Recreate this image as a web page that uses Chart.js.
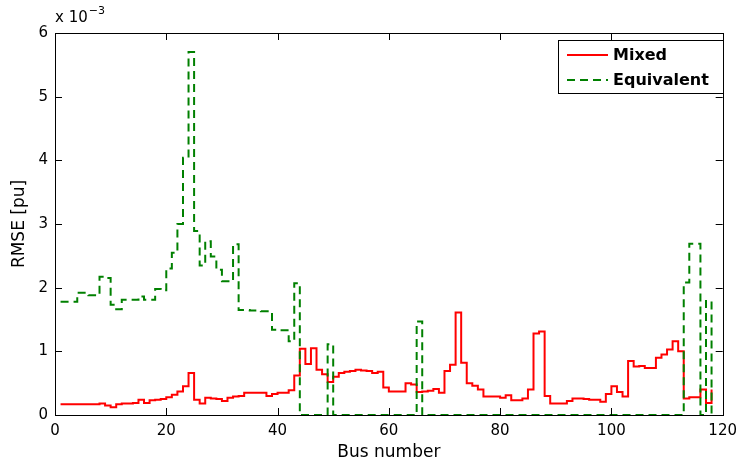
<!DOCTYPE html>
<html>
<head>
<meta charset="utf-8">
<script src="https://cdn.jsdelivr.net/npm/chart.js@4.4.1/dist/chart.umd.min.js"></script>
<style>
  html, body { margin: 0; padding: 0; background: #fff; }
  canvas { display: block; }
</style>
</head>
<body>
<canvas id="rmse-chart" width="744" height="468"></canvas>
<script>
// bus numbers 1..118
var buses = Array.from({ length: 118 }, function(_, i) { return i + 1; });

// RMSE values, in units of 1e-3 pu (one per bus)
var mixed = [
  0.17, 0.17, 0.17, 0.17, 0.17, 0.17, 0.17, 0.18, 0.15, 0.12,
  0.17, 0.18, 0.18, 0.19, 0.24, 0.19, 0.23, 0.24, 0.25, 0.28,
  0.32, 0.37, 0.45, 0.66, 0.24, 0.18, 0.27, 0.26, 0.25, 0.22,
  0.27, 0.29, 0.30, 0.35, 0.35, 0.35, 0.35, 0.30, 0.33, 0.35,
  0.35, 0.39, 0.62, 1.04, 0.80, 1.05, 0.71, 0.64, 0.52, 0.60,
  0.66, 0.68, 0.69, 0.71, 0.70, 0.69, 0.66, 0.68, 0.43, 0.37,
  0.37, 0.37, 0.50, 0.48, 0.36, 0.37, 0.38, 0.41, 0.35, 0.69,
  0.79, 1.61, 0.82, 0.50, 0.46, 0.40, 0.29, 0.29, 0.29, 0.27,
  0.31, 0.23, 0.23, 0.26, 0.40, 1.28, 1.31, 0.30, 0.18, 0.18,
  0.18, 0.22, 0.26, 0.26, 0.25, 0.24, 0.24, 0.21, 0.33, 0.45,
  0.36, 0.29, 0.85, 0.76, 0.77, 0.74, 0.74, 0.90, 0.95, 1.03,
  1.16, 1.00, 0.26, 0.28, 0.28, 0.40, 0.19, 0.40
];
var equivalent = [
  1.78, 1.78, 1.78, 1.92, 1.92, 1.88, 1.88, 2.17, 2.15, 1.73,
  1.66, 1.81, 1.81, 1.81, 1.86, 1.81, 1.81, 1.98, 1.96, 2.30,
  2.55, 3.00, 4.04, 5.70, 2.89, 2.35, 2.73, 2.49, 2.28, 2.10,
  2.10, 2.68, 1.65, 1.65, 1.64, 1.64, 1.63, 1.63, 1.34, 1.33,
  1.33, 1.16, 2.07, 0, 0, 0, 0, 0, 1.11, 0,
  0, 0, 0, 0, 0, 0, 0, 0, 0, 0,
  0, 0, 0, 0, 1.47, 0, 0, 0, 0, 0,
  0, 0, 0, 0, 0, 0, 0, 0, 0, 0,
  0, 0, 0, 0, 0, 0, 0, 0, 0, 0,
  0, 0, 0, 0, 0, 0, 0, 0, 0, 0,
  0, 0, 0, 0, 0, 0, 0, 0, 0, 0,
  0, 0, 2.08, 2.69, 2.69, 0, 1.79, 0
];

var xTicks = [0, 20, 40, 60, 80, 100, 120];
var yTicks = [0, 1, 2, 3, 4, 5, 6];

function points(vals) {
  return buses.map(function(b, i) { return { x: b, y: vals[i] }; });
}

var FONT = '"DejaVu Sans", Verdana, sans-serif';

// box round the axes with inward ticks, the exponent and the legend
var frameTicks = {
  id: 'frameTicks',
  afterDraw: function(chart) {
    var ctx = chart.ctx, a = chart.chartArea;
    var xs = chart.scales.x, ys = chart.scales.y;
    ctx.save();
    ctx.strokeStyle = '#000';
    ctx.lineWidth = 1;
    ctx.beginPath();
    xTicks.forEach(function(v) {
      var px = Math.round(xs.getPixelForValue(v)) + 0.5;
      ctx.moveTo(px, a.bottom); ctx.lineTo(px, a.bottom - 7);
      ctx.moveTo(px, a.top); ctx.lineTo(px, a.top + 7);
    });
    yTicks.forEach(function(v) {
      var py = Math.round(ys.getPixelForValue(v)) + 0.5;
      ctx.moveTo(a.left, py); ctx.lineTo(a.left + 7, py);
      ctx.moveTo(a.right, py); ctx.lineTo(a.right - 7, py);
    });
    ctx.stroke();
    ctx.strokeRect(Math.round(a.left) + 0.5, Math.round(a.top) + 0.5,
      Math.round(a.right - a.left), Math.round(a.bottom - a.top));

    // exponent label
    ctx.fillStyle = '#000';
    ctx.textBaseline = 'alphabetic';
    ctx.textAlign = 'left';
    ctx.font = '15px ' + FONT;
    ctx.fillText('x 10', a.left, a.top - 11);
    var w = ctx.measureText('x 10').width;
    ctx.font = '11px ' + FONT;
    ctx.fillText('\u22123', a.left + w + 1, a.top - 19);

    // legend
    var lx = 558, ly = 40, lw = 165, lh = 53;
    ctx.fillStyle = '#fff';
    ctx.fillRect(lx, ly, lw, lh);
    ctx.strokeStyle = '#000';
    ctx.strokeRect(lx + 0.5, ly + 0.5, lw, lh);
    chart.data.datasets.forEach(function(ds, i) {
      var yy = ly + 15 + i * 25;
      ctx.beginPath();
      ctx.strokeStyle = ds.borderColor;
      ctx.lineWidth = 2;
      ctx.setLineDash(ds.borderDash || []);
      ctx.moveTo(lx + 9, yy);
      ctx.lineTo(lx + 50, yy);
      ctx.stroke();
      ctx.setLineDash([]);
      ctx.fillStyle = '#000';
      ctx.font = 'bold 16px ' + FONT;
      ctx.textBaseline = 'middle';
      ctx.fillText(ds.label, lx + 55, yy + 1);
    });
    ctx.restore();
  }
};

var ctx = document.getElementById('rmse-chart').getContext('2d');
var rmseChart = new Chart(ctx, {
  type: 'line',
  data: {
    datasets: [
      {
        label: 'Mixed',
        data: points(mixed),
        borderColor: '#ff0000',
        borderWidth: 2,
        stepped: true,
        pointRadius: 0,
        order: 2
      },
      {
        label: 'Equivalent',
        data: points(equivalent),
        borderColor: '#008000',
        borderWidth: 2,
        borderDash: [8, 5],
        stepped: true,
        pointRadius: 0,
        order: 1
      }
    ]
  },
  options: {
    responsive: false,
    animation: false,
    layout: { padding: { top: 33, right: 19, left: 0, bottom: 0 } },
    plugins: {
      legend: { display: false },
      tooltip: { enabled: false }
    },
    scales: {
      x: {
        type: 'linear',
        min: 0,
        max: 120,
        afterFit: function(s) { s.height = 53; },
        afterBuildTicks: function(s) { s.ticks = xTicks.map(function(v) { return { value: v }; }); },
        grid: { display: false, drawTicks: false },
        border: { display: false },
        ticks: { color: '#000', padding: 7, maxRotation: 0, font: { size: 15, family: FONT } },
        title: {
          display: true,
          text: 'Bus number',
          color: '#000',
          font: { size: 17, family: FONT },
          padding: { top: 0, bottom: 5 }
        }
      },
      y: {
        min: 0,
        max: 6,
        afterFit: function(s) { s.width = 55; },
        afterBuildTicks: function(s) { s.ticks = yTicks.map(function(v) { return { value: v }; }); },
        grid: { display: false, drawTicks: false },
        border: { display: false },
        ticks: { color: '#000', padding: 7, font: { size: 15, family: FONT } },
        title: {
          display: true,
          text: 'RMSE [pu]',
          color: '#000',
          font: { size: 17, family: FONT },
          padding: { top: 9, bottom: 0 }
        }
      }
    }
  },
  plugins: [frameTicks]
});
</script>
</body>
</html>
